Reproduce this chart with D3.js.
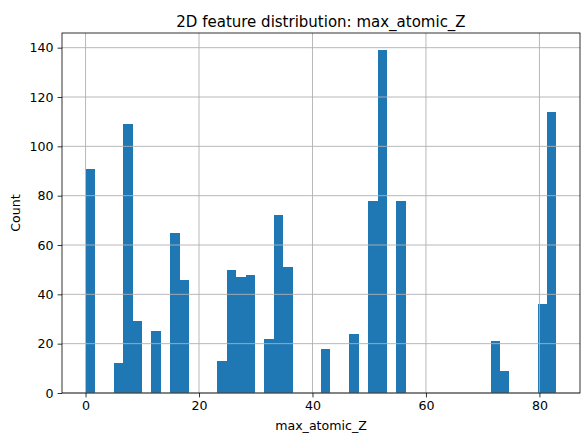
<!DOCTYPE html>
<html>
<head>
<meta charset="utf-8">
<script src="https://cdn.jsdelivr.net/npm/d3@7"></script>
<style>
  html, body { margin: 0; padding: 0; background: #fff; }
  svg { display: block; }
  text { font-family: "DejaVu Sans", sans-serif; fill: #000; }
</style>
</head>
<body>
<svg id="chart" width="581" height="435"></svg>
<script>
// Histogram of max_atomic_Z: 50 equal-width bins spanning [binStart, binEnd]
const binStart = 0;
const binEnd = 83;
const binCount = 50;
// Count per bin (index 0..49)
const counts = [
  91, 0, 0, 12, 109, 29, 0, 25, 0, 65,
  46, 0, 0, 0, 13, 50, 47, 48, 0, 22,
  72, 51, 0, 0, 0, 18, 0, 0, 24, 0,
  78, 139, 0, 78, 0, 0, 0, 0, 0, 0,
  0, 0, 0, 21, 9, 0, 0, 0, 36, 114
];
const xTicks = [0, 20, 40, 60, 80];
const yTicks = [0, 20, 40, 60, 80, 100, 120, 140];
const titleText = "2D feature distribution: max_atomic_Z";
const xLabel = "max_atomic_Z";
const yLabel = "Count";

const W = 581, H = 435;
const m = { left: 62, right: 1, top: 33, bottom: 42 };
const pw = W - m.left - m.right, ph = H - m.top - m.bottom;

const binW = (binEnd - binStart) / binCount;
const bins = counts.map((c, i) => ({ x0: binStart + i * binW, x1: binStart + (i + 1) * binW, n: c }));

const span = binEnd - binStart;
const x = d3.scaleLinear()
  .domain([binStart - 0.05 * span, binEnd + 0.05 * span])
  .range([m.left, m.left + pw]);
const yMax = d3.max(counts) * 1.05;
const y = d3.scaleLinear().domain([0, yMax]).range([m.top + ph, m.top]);

const svg = d3.select("#chart");

// bars
svg.append("g").selectAll("rect")
  .data(bins.filter(b => b.n > 0))
  .join("rect")
  .attr("x", d => x(d.x0))
  .attr("width", d => x(d.x1) - x(d.x0))
  .attr("y", d => y(d.n))
  .attr("height", d => y(0) - y(d.n))
  .attr("fill", "#1f77b4")
  .attr("shape-rendering", "crispEdges");

// grid lines (drawn over the bars)
const grid = svg.append("g").attr("stroke", "#b0b0b0").attr("stroke-width", 0.9);
grid.selectAll("line.gx").data(xTicks).join("line")
  .attr("x1", d => x(d)).attr("x2", d => x(d))
  .attr("y1", m.top).attr("y2", m.top + ph);
grid.selectAll("line.gy").data(yTicks).join("line")
  .attr("y1", d => y(d)).attr("y2", d => y(d))
  .attr("x1", m.left).attr("x2", m.left + pw);

// axes
const xAxis = d3.axisBottom(x).tickValues(xTicks).tickSize(4.4).tickPadding(4);
const yAxis = d3.axisLeft(y).tickValues(yTicks).tickSize(4.4).tickPadding(4);

const gx = svg.append("g").attr("transform", `translate(0,${m.top + ph})`).call(xAxis);
const gy = svg.append("g").attr("transform", `translate(${m.left},0)`).call(yAxis);
[gx, gy].forEach(g => {
  g.select(".domain").remove();
  g.selectAll("line").attr("stroke", "#000").attr("stroke-width", 0.8);
  g.selectAll("text").style("font-family", "DejaVu Sans, sans-serif").style("font-size", "12.6px").attr("fill", "#000");
});

// frame
svg.append("rect")
  .attr("x", m.left).attr("y", m.top).attr("width", pw).attr("height", ph)
  .attr("fill", "none").attr("stroke", "#000").attr("stroke-width", 0.8);

// title and axis labels
svg.append("text")
  .attr("x", m.left + pw / 2).attr("y", m.top - 6.5)
  .attr("text-anchor", "middle").style("font-size", "15px")
  .text(titleText);
svg.append("text")
  .attr("x", m.left + pw / 2).attr("y", H - 5)
  .attr("text-anchor", "middle").style("font-size", "12.6px")
  .text(xLabel);
svg.append("text")
  .attr("transform", `translate(20,${m.top + ph / 2}) rotate(-90)`)
  .attr("text-anchor", "middle").style("font-size", "12.6px")
  .text(yLabel);
</script>
</body>
</html>
